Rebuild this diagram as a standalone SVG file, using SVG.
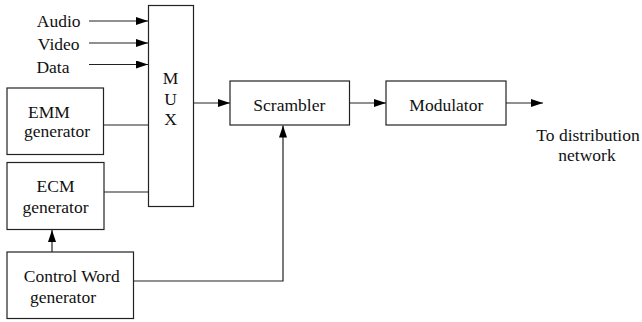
<svg xmlns="http://www.w3.org/2000/svg" width="642" height="322" viewBox="0 0 642 322">
<style>
.box{fill:#fff;stroke:#222;stroke-width:1.2}
.ln{fill:none;stroke:#222;stroke-width:1.2}
.t{font-size:17.5px;fill:#111;text-anchor:middle}
</style>
<defs>
<marker id="ah" markerWidth="12" markerHeight="8" refX="12" refY="4" orient="auto" markerUnits="userSpaceOnUse">
<path d="M0,0 L12,4 L0,8 Z" fill="#000"/>
</marker>
</defs>
<g font-family="Liberation Serif, Times New Roman, Times, Nimbus Roman, FreeSerif, Noto Serif, DejaVu Serif, serif">
<g id="inputs">
<text class="t" x="58.7" y="27.3">Audio</text>
<text class="t" x="58.7" y="50">Video</text>
<text class="t" x="53" y="72.5">Data</text>
</g>
<g id="mux">
<rect class="box" x="148.5" y="5.5" width="45" height="201"/>
<text class="t" x="170.5" y="84">M</text>
<text class="t" x="170.5" y="104.5">U</text>
<text class="t" x="170.5" y="125">X</text>
</g>
<g id="emm">
<rect class="box" x="7" y="88" width="96.5" height="66.5"/>
<text class="t" x="49" y="118.3">EMM</text>
<text class="t" x="57" y="137">generator</text>
</g>
<g id="ecm">
<rect class="box" x="7" y="162.5" width="97" height="67"/>
<text class="t" x="55.5" y="191.7">ECM</text>
<text class="t" x="55.5" y="213.3">generator</text>
</g>
<g id="cw">
<rect class="box" x="7" y="252" width="126.5" height="66.5"/>
<text class="t" x="71.7" y="281.7">Control Word</text>
<text class="t" x="63" y="303.3">generator</text>
</g>
<g id="scrambler">
<rect class="box" x="230" y="81" width="119.5" height="44"/>
<text class="t" x="289.3" y="110.7">Scrambler</text>
</g>
<g id="modulator">
<rect class="box" x="386" y="81" width="120" height="44"/>
<text class="t" x="446.3" y="110.7">Modulator</text>
</g>
<g id="output">
<text class="t" x="588" y="141">To distribution</text>
<text class="t" x="587" y="160.5">network</text>
</g>
</g>
<g id="connectors">
<line class="ln" x1="89" y1="21" x2="148" y2="21" marker-end="url(#ah)"/>
<line class="ln" x1="89" y1="43" x2="148" y2="43" marker-end="url(#ah)"/>
<line class="ln" x1="89" y1="64.5" x2="148" y2="64.5" marker-end="url(#ah)"/>
<line class="ln" x1="103.5" y1="125" x2="148.5" y2="125"/>
<line class="ln" x1="104" y1="192" x2="148.5" y2="192"/>
<line class="ln" x1="52" y1="252" x2="52" y2="230" marker-end="url(#ah)"/>
<polyline class="ln" points="133.5,281 283,281 283,125.5" marker-end="url(#ah)"/>
<line class="ln" x1="193.5" y1="103" x2="230" y2="103" marker-end="url(#ah)"/>
<line class="ln" x1="349.5" y1="103" x2="386" y2="103" marker-end="url(#ah)"/>
<line class="ln" x1="506" y1="103" x2="543" y2="103" marker-end="url(#ah)"/>
</g>
</svg>
